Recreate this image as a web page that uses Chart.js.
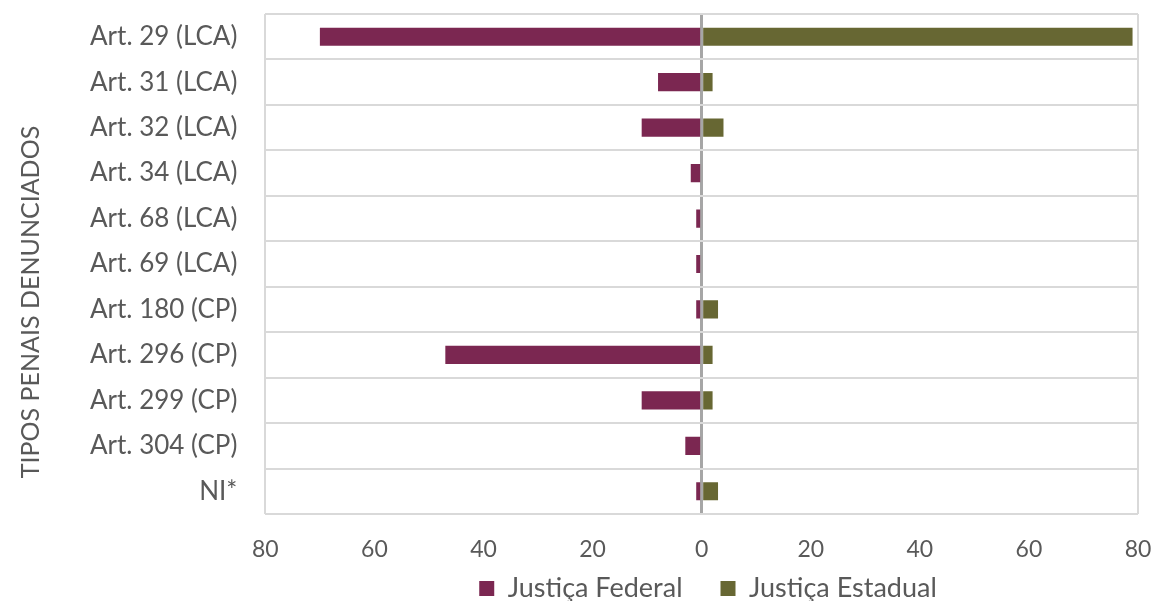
<!DOCTYPE html>
<html>
<head>
<meta charset="utf-8">
<script src="https://cdn.jsdelivr.net/npm/chart.js@4"></script>
<style>
  html, body { margin: 0; padding: 0; background: #fff; }
  #wrap { width: 1152px; height: 601px; }
</style>
</head>
<body>
<div id="wrap"><canvas id="chart"></canvas></div>
<script>
const categories = ['Art. 29 (LCA)', 'Art. 31 (LCA)', 'Art. 32 (LCA)', 'Art. 34 (LCA)', 'Art. 68 (LCA)',
    'Art. 69 (LCA)', 'Art. 180 (CP)', 'Art. 296 (CP)', 'Art. 299 (CP)', 'Art. 304 (CP)', 'NI*'];
// federal values are drawn to the left, so they are kept negative
const federal = [-70, -8, -11, -2, -1, -1, -1, -47, -11, -3, -1];
const estadual = [79, 2, 4, 0, 0, 0, 3, 2, 2, 0, 3];
const axisMin = -80;
const axisMax = 80;
const axisStep = 20;

const textColor = '#595959';

// the x labels sit below a squeezed axis box, the legend is centred under the plot
// and the y title is pushed a little lower, like in the original
const layoutFix = {
    id: 'layoutFix',
    afterLayout(chart) {
        chart.scales.x.bottom = chart.height;
        chart.scales.y.bottom += 76;
        const shift = 133;
        chart.legend.left += shift;
        chart.legend.right += shift;
    }
};

new Chart(document.getElementById('chart'), {
    type: 'bar',
    data: {
        labels: categories,
        datasets: [
            { label: 'Justiça Federal', data: federal, backgroundColor: '#7b2751' },
            { label: 'Justiça Estadual', data: estadual, backgroundColor: '#676733' }
        ]
    },
    plugins: [layoutFix],
    options: {
        indexAxis: 'y',
        responsive: true,
        maintainAspectRatio: false,
        animation: false,
        layout: { padding: { top: 14, right: 14, left: 12, bottom: 0 } },
        datasets: { bar: { barPercentage: 0.4, categoryPercentage: 1 } },
        scales: {
            x: {
                stacked: true,
                min: axisMin,
                max: axisMax,
                z: 1,
                border: { display: false },
                afterFit: s => { s.paddingLeft = 0; s.paddingRight = 0; s.height = 23; },
                ticks: {
                    stepSize: axisStep,
                    color: textColor,
                    font: { family: 'Lato', size: 23 },
                    padding: 22,
                    callback: v => Math.abs(v)
                },
                grid: {
                    drawTicks: false,
                    color: ctx => ctx.tick && ctx.tick.value === 0 ? '#a6a6a6'
                        : (ctx.tick && Math.abs(ctx.tick.value) === axisMax ? '#d9d9d9' : 'rgba(0,0,0,0)'),
                    lineWidth: ctx => ctx.tick && ctx.tick.value === 0 ? 3 : 2
                }
            },
            y: {
                stacked: true,
                border: { display: false },
                afterFit: s => { s.paddingTop = 0; s.paddingBottom = 0; },
                title: {
                    display: true,
                    text: 'TIPOS PENAIS DENUNCIADOS',
                    color: textColor,
                    font: { family: 'Lato', size: 25 },
                    padding: { bottom: 16 }
                },
                ticks: {
                    color: textColor,
                    font: { family: 'Lato', size: 26 },
                    padding: 28
                },
                grid: {
                    offset: true,
                    drawTicks: false,
                    color: '#d9d9d9',
                    lineWidth: 2
                }
            }
        },
        plugins: {
            legend: {
                position: 'bottom',
                maxHeight: 64,
                labels: {
                    color: textColor,
                    font: { family: 'Lato', size: 27 },
                    boxWidth: 15,
                    boxHeight: 15,
                    padding: 38
                }
            },
            tooltip: { enabled: false }
        }
    }
});
</script>
</body>
</html>
